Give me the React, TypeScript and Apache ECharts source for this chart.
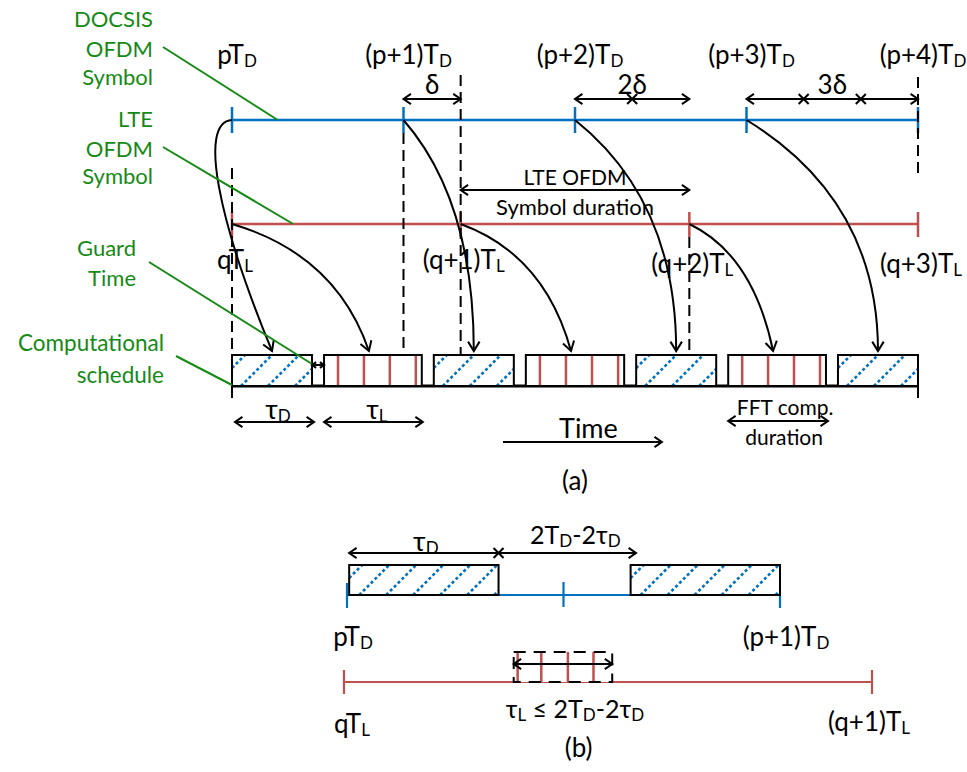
import React, { useEffect, useRef } from "react";
import * as echarts from "echarts";

// ---------- Data: part (a), time in units where T_D = 3, T_L = 4, δ = 1 ----------
const docsisTicks = [0, 3, 6, 9, 12];
const docsisLabels = ["p", "(p+1)", "(p+2)", "(p+3)", "(p+4)"];
const lteTicks = [0, 4, 8, 12];
const lteLabels = ["q", "(q+1)", "(q+2)", "(q+3)"];
const deltaStarts = [3, 6, 9];
const deltaEnds = [4, 8, 12];
const deltaLabels = ["δ", "2δ", "3δ"];
const deltaCrosses = [[], [7], [10, 11]];
const dashedTimes = [0, 3, 4, 8, 12];
const docsisBlockStart = [0, 3.53, 7.07, 10.6];
const docsisBlockEnd = [1.4, 4.93, 8.47, 12];
const lteBlockStart = [1.61, 5.14, 8.68];
const lteBlockEnd = [3.32, 6.86, 10.39];
const fftStripes = [0.143, 0.408, 0.673, 0.939];
const lteDurationSpan = [4, 8];
const timeArrowSpan = [4.74, 7.52];

// ---------- Data: part (b), time in units of T_D / 2 ----------
const bDocsisTicks = [0, 1, 2];
const bDocsisLabels = ["p", "(p+1)"];
const bBlockStart = [0.01, 1.31];
const bBlockEnd = [0.7, 2.0];
const bGapEnd = 1.335;
const bLteSpan = [-0.014, 2.425];
const bLteLabels = ["q", "(q+1)"];
const bFftBox = [0.77, 1.225];
const bFftStripes = [0.04, 0.28, 0.55, 0.81];

// ---------- Styles ----------
const FONT = "Lato, 'Open Sans', sans-serif";
const BLUE = "#0070C0";
const RED = "#C0504D";
const GREEN = "#158A15";
const BLACK = "#000000";

const RICH = {
  s: { fontSize: 17, fontFamily: FONT, verticalAlign: "bottom", lineHeight: 23 },
  l: { fontSize: 17, fontFamily: FONT, verticalAlign: "bottom", lineHeight: 15 },
};

const line = (x1: number, y1: number, x2: number, y2: number, stroke = BLACK, lineWidth = 2, lineDash?: number[]) => ({
  type: "line",
  shape: { x1, y1, x2, y2 },
  style: { stroke, lineWidth, lineDash, fill: "none" },
});

const head = (x: number, y: number, ang: number, len = 9, spread = 0.6) => {
  const a1 = ang + Math.PI - spread;
  const a2 = ang + Math.PI + spread;
  return {
    type: "polyline",
    shape: {
      points: [
        [x + len * Math.cos(a1), y + len * Math.sin(a1)],
        [x, y],
        [x + len * Math.cos(a2), y + len * Math.sin(a2)],
      ],
    },
    style: { stroke: BLACK, lineWidth: 2, fill: "none" },
  };
};

const hArrow = (xa: number, xb: number, y: number, left = true, right = true, len = 9) => {
  const out: any[] = [line(xa, y, xb, y)];
  if (left) out.push(head(xa, y, Math.PI, len));
  if (right) out.push(head(xb, y, 0, len));
  return out;
};

const cross = (x: number, y: number, r = 5) => [line(x - r, y - r, x + r, y + r), line(x - r, y + r, x + r, y - r)];

const txt = (x: number, y: number, text: string, size = 25, fill = BLACK, align = "center") => ({
  type: "text",
  x,
  y,
  style: {
    text,
    fill,
    fontFamily: FONT,
    fontSize: size,
    lineHeight: size + 4,
    align,
    verticalAlign: "middle",
    rich: RICH,
  },
});

const hatchRect = (x0: number, x1: number, yT: number, yB: number, step = 27) => {
  const out: any[] = [];
  out.push({ type: "rect", shape: { x: x0, y: yT, width: x1 - x0, height: yB - yT }, style: { fill: "#fff", stroke: "none" } });
  const h = yB - yT;
  let u = x0 + 13 - h - step * 2;
  for (; u < x1; u += step) {
    let ax = u, ay = yB, bx = u + h, by = yT;
    if (ax < x0) { ay = yB - (x0 - ax); ax = x0; }
    if (bx > x1) { by = yT + (bx - x1); bx = x1; }
    if (bx - ax > 2) out.push(line(ax, ay, bx, by, BLUE, 2.6, [3, 2.5]));
  }
  out.push({ type: "rect", shape: { x: x0, y: yT, width: x1 - x0, height: yB - yT }, style: { fill: "none", stroke: BLACK, lineWidth: 2 } });
  return out;
};

const stripeRect = (x0: number, x1: number, yT: number, yB: number, fracs: number[], dashed = false) => {
  const out: any[] = [];
  out.push({ type: "rect", shape: { x: x0, y: yT, width: x1 - x0, height: yB - yT }, style: { fill: "#fff", stroke: "none" } });
  fracs.forEach((f) => {
    const x = x0 + f * (x1 - x0);
    out.push(line(x, yT, x, yB, RED, 2.5));
  });
  out.push({
    type: "rect",
    shape: { x: x0, y: yT, width: x1 - x0, height: yB - yT },
    style: { fill: "none", stroke: BLACK, lineWidth: 2, lineDash: dashed ? [12, 8] : undefined },
  });
  return out;
};

const quadArrow = (x0: number, y0: number, x1: number, y1: number, cx: number, cy: number) => [
  { type: "bezierCurve", shape: { x1: x0, y1: y0, x2: x1, y2: y1, cpx1: cx, cpy1: cy }, style: { stroke: BLACK, lineWidth: 2, fill: "none" } },
  head(x1, y1, Math.atan2(y1 - cy, x1 - cx), 11, 0.55),
];

const cubicArrow = (x0: number, y0: number, x1: number, y1: number, c1x: number, c1y: number, c2x: number, c2y: number) => [
  { type: "bezierCurve", shape: { x1: x0, y1: y0, x2: x1, y2: y1, cpx1: c1x, cpy1: c1y, cpx2: c2x, cpy2: c2y }, style: { stroke: BLACK, lineWidth: 2, fill: "none" } },
  head(x1, y1, Math.atan2(y1 - c2y, x1 - c2x), 11, 0.55),
];

// ---------- Part (a) ----------
const renderA = (_params: any, api: any) => {
  const X = (t: number) => api.coord([t, 0])[0];
  const Y = (v: number) => api.coord([0, v])[1];
  const c: any[] = [];

  const yDoc = Y(120), yLte = Y(224), yBT = Y(355), yBB = Y(386);

  // green annotation labels
  [["DOCSIS", 18], ["OFDM", 48], ["Symbol", 76]].forEach(([s, y]) => c.push(txt(153, Y(y as number), s as string, 22, GREEN, "right")));
  [["LTE", 118], ["OFDM", 148], ["Symbol", 175]].forEach(([s, y]) => c.push(txt(153, Y(y as number), s as string, 22, GREEN, "right")));
  [["Guard", 247], ["Time", 277]].forEach(([s, y]) => c.push(txt(136, Y(y as number), s as string, 22, GREEN, "right")));
  [["Computational", 342], ["schedule", 374]].forEach(([s, y]) => c.push(txt(164, Y(y as number), s as string, 22.5, GREEN, "right")));

  // DOCSIS timeline
  c.push(line(X(docsisTicks[0]), yDoc, X(docsisTicks[docsisTicks.length - 1]), yDoc, BLUE, 2.5));
  docsisTicks.forEach((t, i) => {
    c.push(line(X(t), Y(107), X(t), Y(133), BLUE, 2.5));
    c.push(txt(X(t) + 5, Y(54), `${docsisLabels[i]}T{s|D}`, 26));
  });

  // LTE timeline
  c.push(line(X(lteTicks[0]), yLte, X(lteTicks[lteTicks.length - 1]), yLte, RED, 2.5));
  lteTicks.forEach((t, i) => {
    c.push(line(X(t), Y(212), X(t), Y(237), RED, 2.5));
    c.push(txt(X(t) + 3, Y(i >= 2 ? 263 : 259), `${lteLabels[i]}T{s|L}`, 26));
  });

  // dashed guides
  const dTop = [168, 133, 75, 237, 77];
  const dBot = [355, 348, 355, 353, 177];
  dashedTimes.forEach((t, i) => c.push(line(X(t), Y(dTop[i]), X(t), Y(dBot[i]), BLACK, 2, [11, 6])));

  // delta spans
  deltaStarts.forEach((a, i) => {
    const b = deltaEnds[i];
    c.push(...hArrow(X(a), X(b), Y(99)));
    deltaCrosses[i].forEach((t) => c.push(...cross(X(t), Y(99))));
    c.push(txt((X(a) + X(b)) / 2, Y(84), deltaLabels[i], 26));
  });

  // LTE symbol duration
  c.push(...hArrow(X(lteDurationSpan[0]), X(lteDurationSpan[1]), Y(190)));
  const lmid = (X(lteDurationSpan[0]) + X(lteDurationSpan[1])) / 2;
  c.push(txt(lmid, Y(176), "LTE OFDM", 21));
  c.push(txt(lmid, Y(206), "Symbol duration", 22));

  // computational schedule baseline
  c.push(line(X(0), yBB, X(12), yBB, BLACK, 3));
  c.push(line(X(0), yBT, X(0), Y(398), BLACK, 2));
  c.push(line(X(12), Y(375), X(12), Y(398), BLACK, 2));

  docsisBlockStart.forEach((a, i) => c.push(...hatchRect(X(a), X(docsisBlockEnd[i]), yBT, yBB)));
  lteBlockStart.forEach((a, i) => c.push(...stripeRect(X(a), X(lteBlockEnd[i]), yBT, yBB, fftStripes)));

  // curved arrows: DOCSIS symbols -> DOCSIS FFT blocks
  docsisBlockStart.forEach((a, k) => {
    const x0 = X(docsisTicks[k]);
    const x1 = X((a + docsisBlockEnd[k]) / 2);
    const y1 = Y(351);
    if (k === 0) c.push(...cubicArrow(x0, yDoc, x1, y1, x0 - 34, yDoc + 2, x0 - 14, yDoc + 100));
    else c.push(...quadArrow(x0, yDoc, x1, y1, x1, yDoc + 0.35 * (y1 - yDoc)));
  });
  // curved arrows: LTE symbols -> LTE FFT blocks
  lteBlockStart.forEach((a, k) => {
    const x0 = X(lteTicks[k]);
    const x1 = X((a + lteBlockEnd[k]) / 2) - 4;
    const y1 = Y(351);
    c.push(...quadArrow(x0, yLte, x1, y1, x0 + 0.76 * (x1 - x0), yLte + 0.24 * (y1 - yLte)));
  });

  // green leader lines
  c.push(line(163, Y(47), X(0.8), yDoc, GREEN, 2));
  c.push(line(163, Y(147), X(1.07), yLte, GREEN, 2));
  c.push(line(149, Y(262), X(docsisBlockEnd[0]), Y(364), GREEN, 2));
  c.push(line(176, Y(356), X(0), Y(385), GREEN, 2));

  // guard time
  c.push(...hArrow(X(docsisBlockEnd[0]), X(lteBlockStart[0]), Y(365), true, true, 5));

  // tau spans
  c.push(...hArrow(X(docsisBlockStart[0]) + 3, X(docsisBlockEnd[0]) + 2, Y(422)));
  c.push(txt((X(docsisBlockStart[0]) + X(docsisBlockEnd[0])) / 2 + 6, Y(408), "τ{l|D}", 27));
  c.push(...hArrow(X(lteBlockStart[0]), X(lteBlockEnd[0]) + 1, Y(422)));
  c.push(txt((X(lteBlockStart[0]) + X(lteBlockEnd[0])) / 2 + 4, Y(408), "τ{l|L}", 27));

  // time arrow
  c.push(...hArrow(X(timeArrowSpan[0]), X(timeArrowSpan[1]), Y(442), false, true));
  c.push(txt((X(timeArrowSpan[0]) + X(timeArrowSpan[1])) / 2 + 6, Y(427), "Time", 27));

  // FFT computation duration
  const fx0 = X(lteBlockStart[2]), fx1 = X(lteBlockEnd[2]) + 2;
  c.push(...hArrow(fx0, fx1, Y(421)));
  c.push(txt((fx0 + fx1) / 2 + 7, Y(406), "FFT comp.", 21));
  c.push(txt((fx0 + fx1) / 2 + 6, Y(436), "duration", 21));

  // caption
  c.push(txt(X(6), Y(480), "(a)", 26));

  return { type: "group", children: c };
};

// ---------- Part (b) ----------
const renderB = (_params: any, api: any) => {
  const X = (t: number) => api.coord([t, 0])[0];
  const Y = (v: number) => api.coord([0, v])[1];
  const c: any[] = [];
  const yDoc = Y(595), yLte = Y(682);

  c.push(line(X(bDocsisTicks[0]), yDoc, X(bDocsisTicks[bDocsisTicks.length - 1]), yDoc, BLUE, 2.2));
  const tTop = [583, 582, 595];
  const tBot = [608, 607, 608];
  bDocsisTicks.forEach((t, i) => c.push(line(X(t), Y(tTop[i]), X(t), Y(tBot[i]), BLUE, 2.2)));
  bBlockStart.forEach((a, i) => c.push(...hatchRect(X(a), X(bBlockEnd[i]), Y(565), Y(595))));

  // tau_D and gap arrows
  c.push(...hArrow(X(bBlockStart[0]), X(bGapEnd), Y(553)));
  c.push(...cross(X(bBlockEnd[0]), Y(553)));
  c.push(txt((X(bBlockStart[0]) + X(bBlockEnd[0])) / 2 + 2, Y(540), "τ{l|D}", 27));
  c.push(txt((X(bBlockEnd[0]) + X(bGapEnd)) / 2 + 8, Y(534), "2T{l|D}-2τ{l|D}", 25));

  c.push(txt(X(bDocsisTicks[0]) + 6, Y(636), `${bDocsisLabels[0]}T{s|D}`, 26));
  c.push(txt(X(bDocsisTicks[2]) + 6, Y(636), `${bDocsisLabels[1]}T{s|D}`, 26));

  // LTE line
  c.push(line(X(bLteSpan[0]), yLte, X(bLteSpan[1]), yLte, RED, 2.2));
  c.push(line(X(bLteSpan[0]), Y(670), X(bLteSpan[0]), Y(694), RED, 2.2));
  c.push(line(X(bLteSpan[1]), Y(670), X(bLteSpan[1]), Y(694), RED, 2.2));

  // FFT box
  c.push(...stripeRect(X(bFftBox[0]), X(bFftBox[1]), Y(652), Y(682), bFftStripes, true));
  c.push(...hArrow(X(bFftBox[0]), X(bFftBox[1]), Y(664)));
  c.push(txt((X(bFftBox[0]) + X(bFftBox[1])) / 2 + 12, Y(708), "τ{l|L} ≤ 2T{l|D}-2τ{l|D}", 25));

  c.push(txt(X(bLteSpan[0]) + 8, Y(723), `${bLteLabels[0]}T{s|L}`, 26));
  c.push(txt(X(bLteSpan[1]) - 3, Y(721), `${bLteLabels[1]}T{s|L}`, 26));

  c.push(txt(X(1.07), Y(747), "(b)", 26));
  return { type: "group", children: c };
};

const axisOff = { show: false, axisLine: { show: false }, axisTick: { show: false }, axisLabel: { show: false }, splitLine: { show: false } };

const option: any = {
  animation: false,
  backgroundColor: "#ffffff",
  grid: [
    { left: 232, right: 49, top: 0, bottom: 0 },
    { left: 347, width: 433, top: 0, bottom: 0 },
  ],
  xAxis: [
    { type: "value", gridIndex: 0, min: 0, max: 12, ...axisOff },
    { type: "value", gridIndex: 1, min: 0, max: 2, ...axisOff },
  ],
  yAxis: [
    { type: "value", gridIndex: 0, min: 0, max: 772, inverse: true, ...axisOff },
    { type: "value", gridIndex: 1, min: 0, max: 772, inverse: true, ...axisOff },
  ],
  series: [
    { type: "custom", xAxisIndex: 0, yAxisIndex: 0, data: [[0, 0]], renderItem: renderA, silent: true, clip: false },
    { type: "custom", xAxisIndex: 1, yAxisIndex: 1, data: [[0, 0]], renderItem: renderB, silent: true, clip: false },
  ],
};

export default function App() {
  const ref = useRef<HTMLDivElement>(null);
  useEffect(() => {
    if (!ref.current) return;
    const chart = echarts.init(ref.current, null, { renderer: "svg" });
    chart.setOption(option);
    return () => chart.dispose();
  }, []);
  return (
    <div
      ref={ref}
      style={{ position: "fixed", left: 0, top: 0, width: 967, height: 772, background: "#ffffff" }}
    />
  );
}
